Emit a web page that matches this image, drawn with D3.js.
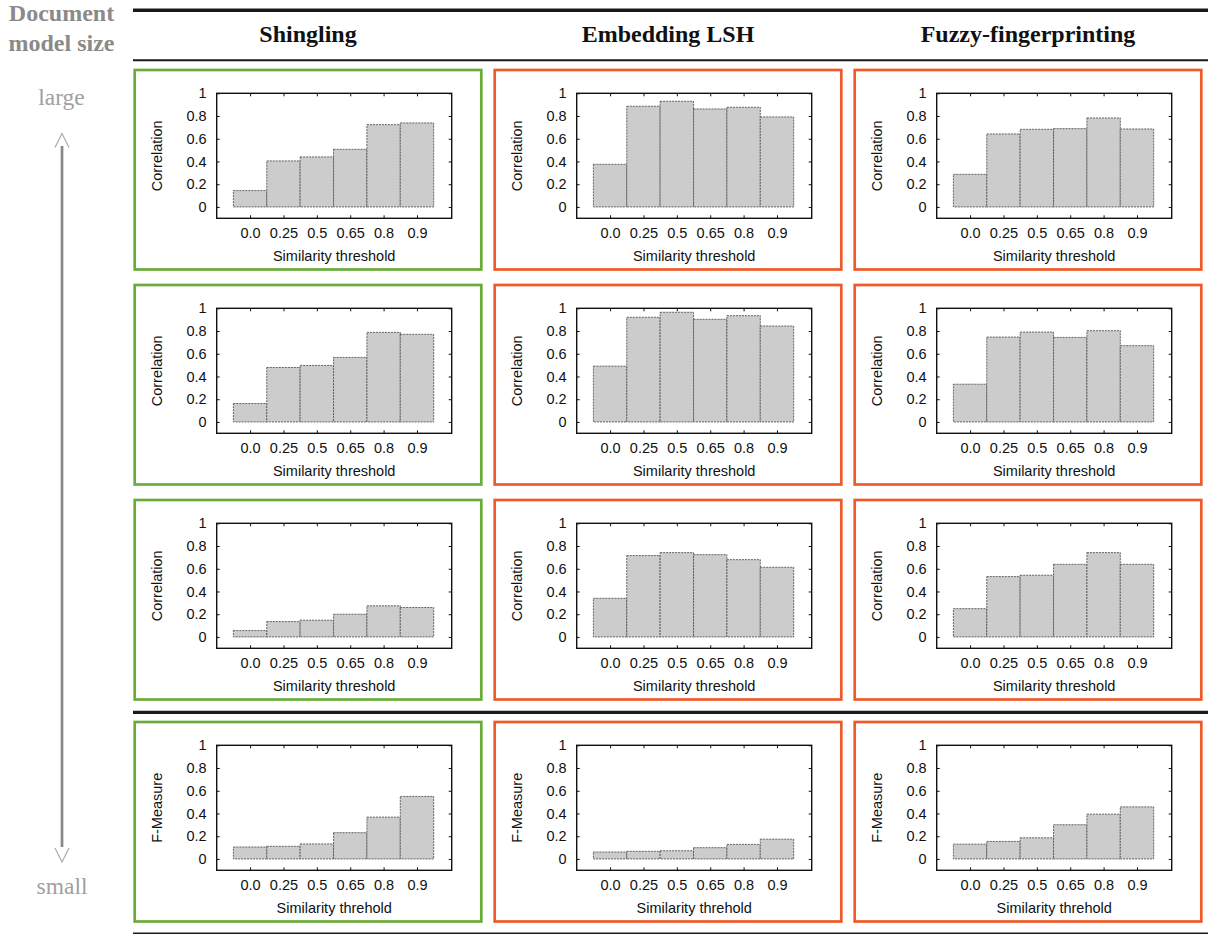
<!DOCTYPE html>
<html>
<head>
<meta charset="utf-8">
<script src="https://cdn.jsdelivr.net/npm/d3@7"></script>
<style>
  body { margin: 0; background: #fff; }
  svg { display: block; }
  .tick text { font-family: "Liberation Sans", Arial, sans-serif; font-size: 14.5px; fill: #111; }
  .tick line { stroke: #111; }
  .lbl { font-family: "Liberation Sans", Arial, sans-serif; font-size: 14.5px; fill: #111; }
  .head { font-family: "Liberation Serif", "Times New Roman", serif; font-weight: bold; font-size: 24px; fill: #111; }
  .side { font-family: "Liberation Serif", "Times New Roman", serif; font-size: 23.5px; fill: #8a8a8a; }
</style>
</head>
<body>
<svg id="fig" width="1208" height="934"></svg>
<script>
// thresholds on the x axis
const thresholds = ["0.0", "0.25", "0.5", "0.65", "0.8", "0.9"]
const methods = ["Shingling", "Embedding LSH", "Fuzzy-fingerprinting"]
const yTicks = [0, 0.2, 0.4, 0.6, 0.8, 1]

// rows: large -> small model size (first three correlation, last F-measure)
const shinglingValues = [
  [0.144, 0.405, 0.44, 0.507, 0.724, 0.739],
  [0.162, 0.479, 0.497, 0.568, 0.788, 0.771],
  [0.056, 0.135, 0.147, 0.2, 0.274, 0.259],
  [0.105, 0.111, 0.132, 0.231, 0.368, 0.55]
]
const embeddingValues = [
  [0.375, 0.886, 0.93, 0.862, 0.877, 0.792],
  [0.491, 0.921, 0.965, 0.903, 0.935, 0.844],
  [0.34, 0.716, 0.742, 0.724, 0.68, 0.613],
  [0.061, 0.067, 0.072, 0.099, 0.128, 0.174]
]
const fuzzyValues = [
  [0.287, 0.642, 0.683, 0.689, 0.783, 0.686],
  [0.332, 0.747, 0.791, 0.744, 0.803, 0.671],
  [0.249, 0.531, 0.543, 0.639, 0.742, 0.639],
  [0.13, 0.154, 0.186, 0.301, 0.394, 0.458]
]
const yLabels = ["Correlation", "Correlation", "Correlation", "F-Measure"]
const xLabels = ["Similarity threshold", "Similarity threshold", "Similarity threshold", "Similarity threhold"]
const boxColors = ["#6aac3a", "#ef5a2a", "#ef5a2a"]

const allValues = [shinglingValues, embeddingValues, fuzzyValues]

const svg = d3.select("#fig")

const colX = [134.7, 494.7, 854.7]
const rowY = [70, 285, 500, 722]
const boxW = 346.6, boxH = 199.5
const plotW = 235, plotH = 125, plotL = 82, plotT = 23.3

let xScale = d3.scaleLinear().domain([-1, 6.04]).range([0, plotW])
let yScale = d3.scaleLinear().domain([-0.1, 1]).range([plotH, 0])

// horizontal rules
svg.append("line").attr("x1", 133).attr("x2", 1208).attr("y1", 10.3).attr("y2", 10.3)
    .attr("stroke", "#1a1a1a").attr("stroke-width", 3.6)
svg.append("line").attr("x1", 133).attr("x2", 1208).attr("y1", 60.2).attr("y2", 60.2)
    .attr("stroke", "#1a1a1a").attr("stroke-width", 2)
svg.append("line").attr("x1", 133).attr("x2", 1208).attr("y1", 712.3).attr("y2", 712.3)
    .attr("stroke", "#1a1a1a").attr("stroke-width", 3.3)
svg.append("line").attr("x1", 133).attr("x2", 1208).attr("y1", 933.2).attr("y2", 933.2)
    .attr("stroke", "#1a1a1a").attr("stroke-width", 1.5)

// column headers
methods.forEach(function (m, i) {
    svg.append("text").attr("class", "head")
        .attr("x", colX[i] + boxW / 2).attr("y", 42)
        .attr("text-anchor", "middle").text(m)
})

// left side annotation
svg.append("text").attr("class", "head").style("fill", "#8a8a8a")
    .attr("x", 61.5).attr("y", 21.4).attr("text-anchor", "middle").text("Document")
svg.append("text").attr("class", "head").style("fill", "#8a8a8a")
    .attr("x", 61.5).attr("y", 51).attr("text-anchor", "middle").text("model size")
svg.append("text").attr("class", "side").style("fill", "#a0a0a0")
    .attr("x", 61.5).attr("y", 105).attr("text-anchor", "middle").text("large")
svg.append("text").attr("class", "side").style("fill", "#a0a0a0")
    .attr("x", 62).attr("y", 894).attr("text-anchor", "middle").text("small")
svg.append("line").attr("x1", 62).attr("x2", 62).attr("y1", 146).attr("y2", 847)
    .attr("stroke", "#888").attr("stroke-width", 2.7)
svg.append("path").attr("d", "M55,147.5 L62,133.5 L69,147.5")
    .attr("fill", "none").attr("stroke", "#aaa").attr("stroke-width", 1.2)
svg.append("path").attr("d", "M55,848 L62,862 L69,848")
    .attr("fill", "none").attr("stroke", "#aaa").attr("stroke-width", 1.2)

function draw_panel(values, col, row)
{
    let g = svg.append("g").attr("transform", `translate(${colX[col]},${rowY[row]})`)
    g.append("rect").attr("width", boxW).attr("height", boxH)
        .attr("fill", "none").attr("stroke", boxColors[col]).attr("stroke-width", 2.7)

    let p = g.append("g").attr("transform", `translate(${plotL},${plotT})`)

    // bars
    p.selectAll(".bar")
        .data(values)
        .enter()
        .append("rect")
        .attr("class", "bar")
        .attr("x", function (d, i) { return xScale(i - 0.5) })
        .attr("width", xScale(1) - xScale(0))
        .attr("y", function (d) { return yScale(d) })
        .attr("height", function (d) { return yScale(0) - yScale(d) })
        .attr("fill", "#cccccc")
        .attr("stroke", "#555")
        .attr("stroke-width", 0.9)
        .attr("stroke-dasharray", "2,1")

    // axes, gnuplot style ticks pointing inward
    let xb = d3.axisBottom(xScale).tickValues(d3.range(thresholds.length))
        .tickFormat(function (i) { return thresholds[i] })
        .tickSizeInner(-3).tickSizeOuter(0).tickPadding(9)
    let xt = d3.axisTop(xScale).tickValues(d3.range(thresholds.length))
        .tickFormat("").tickSizeInner(-3).tickSizeOuter(0)
    let yl = d3.axisLeft(yScale).tickValues(yTicks)
        .tickFormat(d3.format("~g")).tickSizeInner(-3).tickSizeOuter(0).tickPadding(10)
    let yr = d3.axisRight(yScale).tickValues(yTicks)
        .tickFormat("").tickSizeInner(-3).tickSizeOuter(0)

    p.append("g").attr("transform", `translate(0,${plotH})`).call(xb)
    p.append("g").call(xt)
    p.append("g").call(yl)
    p.append("g").attr("transform", `translate(${plotW},0)`).call(yr)
    p.selectAll(".domain").remove()
    p.selectAll(".tick line").attr("stroke-width", 1)

    p.append("rect").attr("width", plotW).attr("height", plotH)
        .attr("fill", "none").attr("stroke", "#111").attr("stroke-width", 1.4)

    // labels
    p.append("text").attr("class", "lbl")
        .attr("x", plotW / 2).attr("y", plotH + 43)
        .attr("text-anchor", "middle").text(xLabels[row])
    p.append("text").attr("class", "lbl")
        .attr("transform", `translate(${-55},${plotH / 2}) rotate(-90)`)
        .attr("text-anchor", "middle").text(yLabels[row])
}

allValues.forEach(function (vals, col) {
    vals.forEach(function (v, row) { draw_panel(v, col, row) })
})
</script>
</body>
</html>
